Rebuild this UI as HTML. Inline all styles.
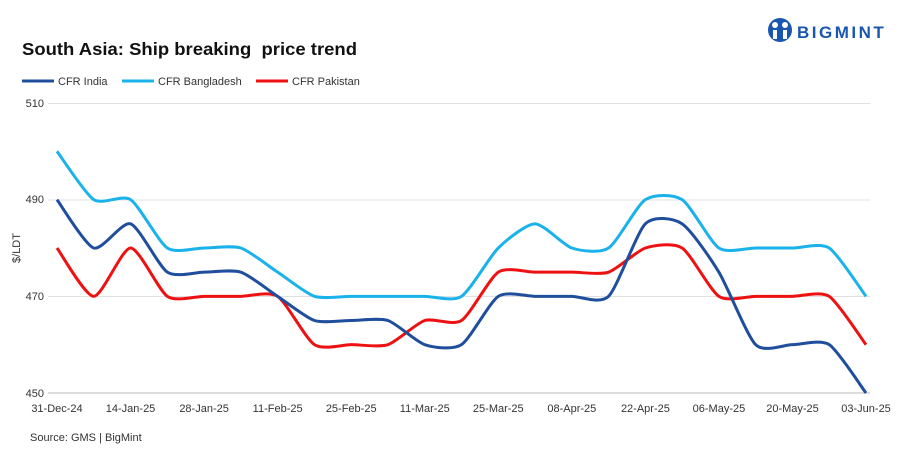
<!DOCTYPE html>
<html><head><meta charset="utf-8"><style>
body{margin:0;background:#fff;width:907px;height:454px;overflow:hidden;font-family:"Liberation Sans",sans-serif}
</style></head><body>
<svg id="s" width="907" height="454" xmlns="http://www.w3.org/2000/svg" font-family="Liberation Sans, sans-serif">
<circle cx="780" cy="30" r="12" fill="#1a56b0"/>
<circle cx="775" cy="25" r="3" fill="#fff"/><circle cx="785" cy="25" r="3" fill="#fff"/>
<rect x="773" y="30" width="4" height="9" fill="#fff"/><rect x="783" y="30" width="4" height="9" fill="#fff"/>
<text x="797" y="38" font-size="17" font-weight="bold" fill="#1a56b0" letter-spacing="2.5">BIGMINT</text>
<text x="22" y="55" font-size="17.5" font-weight="bold" fill="#111" textLength="335" lengthAdjust="spacingAndGlyphs" xml:space="preserve">South Asia: Ship breaking  price trend</text>
<line x1="22" y1="81" x2="54" y2="81" stroke="#1f4e9c" stroke-width="3"/>
<text x="58" y="85" font-size="11" fill="#333">CFR India</text>
<line x1="122" y1="81" x2="154" y2="81" stroke="#1ab2ea" stroke-width="3"/>
<text x="158" y="85" font-size="11" fill="#333">CFR Bangladesh</text>
<line x1="256" y1="81" x2="288" y2="81" stroke="#ee1111" stroke-width="3"/>
<text x="292" y="85" font-size="11" fill="#333">CFR Pakistan</text>
<g stroke="#e0e0e0" stroke-width="1">
<line x1="48" y1="103.5" x2="870" y2="103.5"/><line x1="48" y1="200" x2="870" y2="200"/><line x1="48" y1="296.5" x2="870" y2="296.5"/>
</g>
<line x1="48" y1="393" x2="870" y2="393" stroke="#bbb"/>
<g font-size="11" fill="#333" text-anchor="end">
<text x="44" y="107">510</text><text x="44" y="203">490</text><text x="44" y="300">470</text><text x="44" y="397">450</text>
</g>
<text transform="translate(20,248) rotate(-90)" font-size="11" fill="#333" text-anchor="middle">$/LDT</text>
<g id="xl" font-size="11" fill="#333" text-anchor="middle"></g>
<g id="ln" fill="none" stroke-width="3"></g>
<text x="30" y="441" font-size="11" fill="#333">Source: GMS | BigMint</text>
</svg>
<script>
var labs=["31-Dec-24","14-Jan-25","28-Jan-25","11-Feb-25","25-Feb-25","11-Mar-25","25-Mar-25","08-Apr-25","22-Apr-25","06-May-25","20-May-25","03-Jun-25"];
var xl=document.getElementById('xl'),h='';
labs.forEach(function(l,i){h+='<text x="'+(57+73.55*i)+'" y="412">'+l+'</text>';});
xl.innerHTML=h;
var S={"#1ab2ea":[500,490,490,480,480,480,475,470,470,470,470,470,480,485,480,480,490,490,480,480,480,480,470],
"#ee1111":[480,470,480,470,470,470,470,460,460,460,465,465,475,475,475,475,480,480,470,470,470,470,460],
"#1f4e9c":[490,480,485,475,475,475,470,465,465,465,460,460,470,470,470,470,485,485,475,460,460,460,450]};
function X(i){return 57+809/22*i}function Y(v){return 393-(v-450)*290/60}
var g='';
for(var c in S){var d=S[c],p=d.map(function(v,i){return[X(i),Y(v)]});
var s='M'+p[0][0]+','+p[0][1];
for(var i=0;i<p.length-1;i++){var p0=p[i-1]||p[i],p1=p[i],p2=p[i+1],p3=p[i+2]||p2,t=0.35/3;
s+='C'+(p1[0]+(p2[0]-p0[0])*t)+','+(p1[1]+(p2[1]-p0[1])*t)+' '+(p2[0]-(p3[0]-p1[0])*t)+','+(p2[1]-(p3[1]-p1[1])*t)+' '+p2[0]+','+p2[1];}
g+='<path d="'+s+'" stroke="'+c+'"/>';}
document.getElementById('ln').innerHTML=g;
</script>
</body></html>
